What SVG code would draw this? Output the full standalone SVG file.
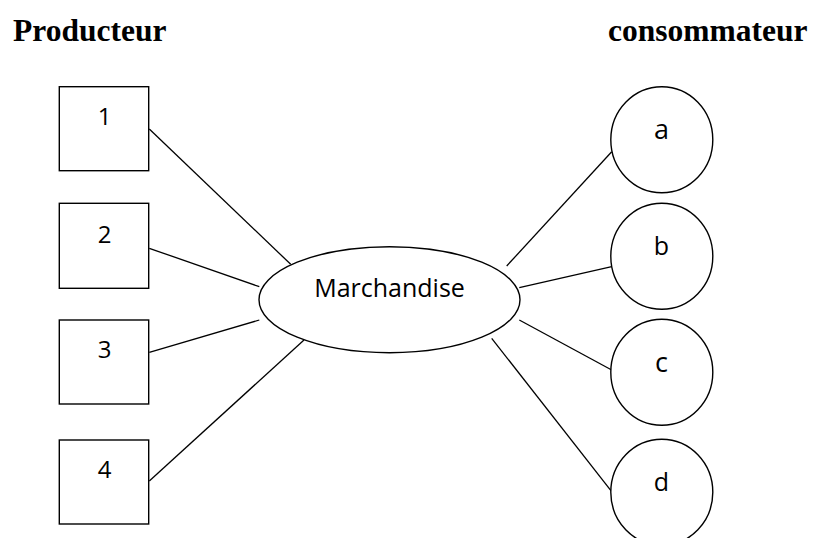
<svg xmlns="http://www.w3.org/2000/svg" width="814" height="538" viewBox="0 0 814 538">
<style>
.shape{fill:#fff;stroke:#000;stroke-width:1.4}
.lbl{font-family:"Open Sans","Liberation Sans",sans-serif;font-size:24px;fill:#000;text-anchor:middle}
.title{font-family:"Liberation Serif","Times New Roman",serif;font-weight:bold;font-size:31.5px;fill:#000}
.conn line{stroke:#000;stroke-width:1.3}
</style>
<rect width="814" height="538" fill="#fff"/>
<text class="title" x="13" y="41">Producteur</text>
<text class="title" x="608" y="41">consommateur</text>
<g class="conn" id="connectors">
<line x1="149.3" y1="129" x2="290.7" y2="264.3"/>
<line x1="149.3" y1="248.3" x2="259.3" y2="286.7"/>
<line x1="149.3" y1="352.3" x2="259.3" y2="320"/>
<line x1="149.3" y1="481" x2="304" y2="340"/>
<line x1="506.7" y1="266" x2="611.7" y2="151.7"/>
<line x1="519.3" y1="287.7" x2="611.7" y2="266.7"/>
<line x1="519.3" y1="320" x2="611.7" y2="370"/>
<line x1="491.7" y1="338.3" x2="611.7" y2="491.7"/>
</g>
<g id="p1"><rect class="shape" x="59.3" y="86.7" width="89.4" height="84"/><text class="lbl" x="104.5" y="125">1</text></g>
<g id="p2"><rect class="shape" x="59.3" y="203.3" width="89.4" height="85"/><text class="lbl" x="104.5" y="243">2</text></g>
<g id="p3"><rect class="shape" x="59.3" y="320" width="89.4" height="84"/><text class="lbl" x="104.5" y="358">3</text></g>
<g id="p4"><rect class="shape" x="59.3" y="440" width="89.4" height="84"/><text class="lbl" x="104.5" y="478">4</text></g>
<g id="m"><ellipse class="shape" cx="389.5" cy="299.7" rx="130.5" ry="53"/><text class="lbl" x="389.5" y="296.7" style="font-size:25px">Marchandise</text></g>
<g id="ca"><ellipse class="shape" cx="661.8" cy="139.7" rx="51" ry="53"/><text class="lbl" x="661.5" y="139.3" style="font-size:27px">a</text></g>
<g id="cb"><ellipse class="shape" cx="661.8" cy="256.3" rx="51" ry="53"/><text class="lbl" x="661.5" y="255" style="font-size:25px">b</text></g>
<g id="cc"><ellipse class="shape" cx="661.8" cy="372.3" rx="51" ry="53"/><text class="lbl" x="661.5" y="372" style="font-size:27px">c</text></g>
<g id="cd"><ellipse class="shape" cx="661.8" cy="492.3" rx="51" ry="53"/><text class="lbl" x="661.5" y="491" style="font-size:25px">d</text></g>
</svg>
